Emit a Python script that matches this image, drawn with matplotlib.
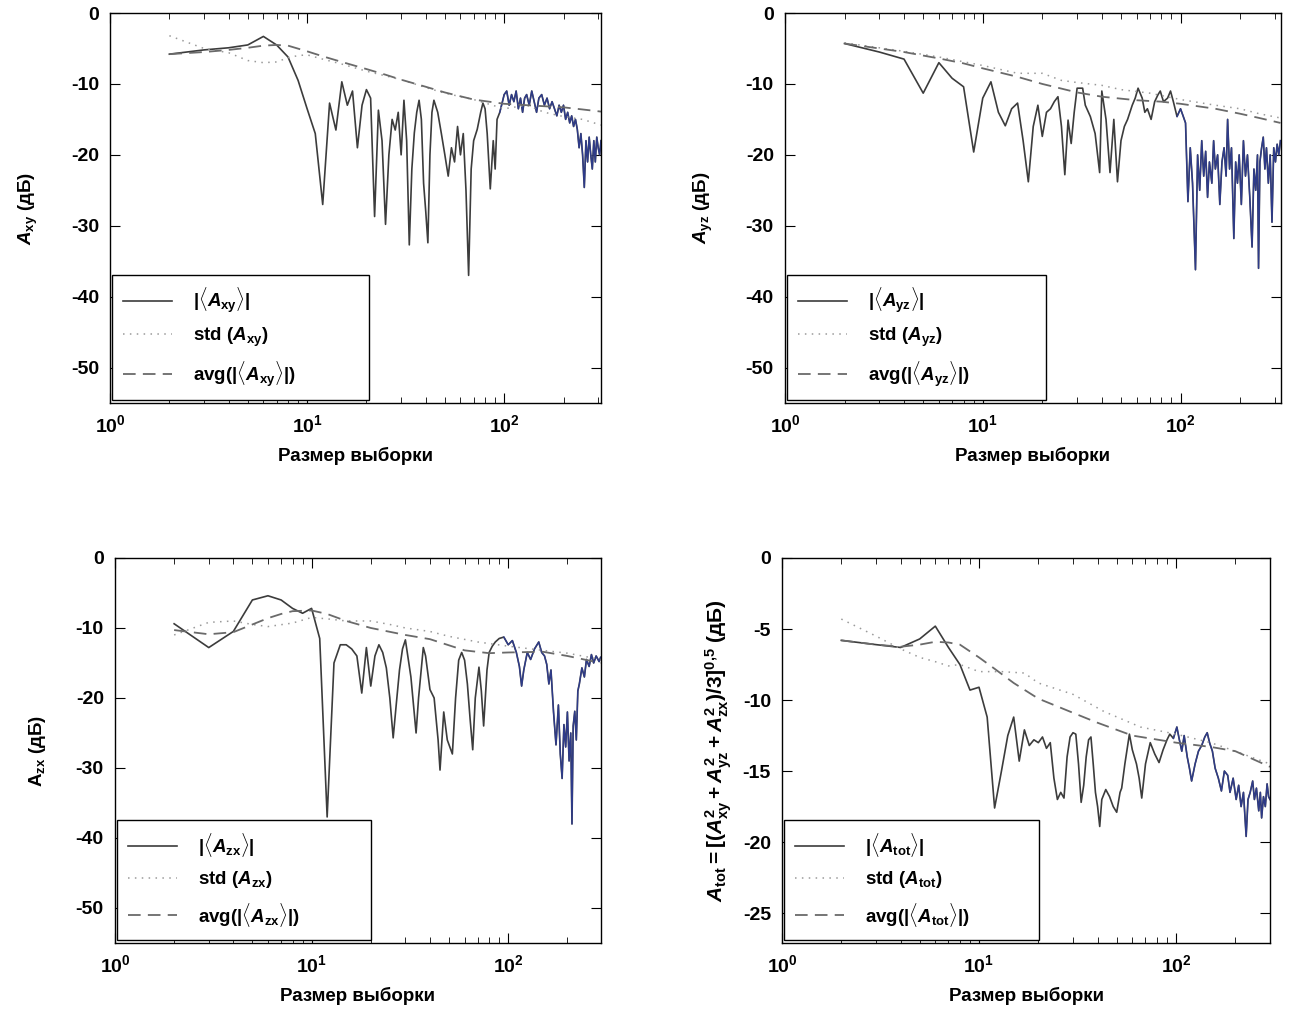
import matplotlib
matplotlib.use("Agg")
import numpy as np
from matplotlib import pyplot as plt

plt.rcParams['font.family'] = ['Liberation Sans', 'DejaVu Sans']
plt.rcParams['font.weight'] = 'bold'
plt.rcParams['axes.labelweight'] = 'bold'
plt.rcParams['axes.unicode_minus'] = False
plt.rcParams['mathtext.fontset'] = 'custom'
plt.rcParams['mathtext.rm'] = 'Liberation Sans:bold'
plt.rcParams['mathtext.it'] = 'Liberation Sans:italic:bold'
plt.rcParams['mathtext.bf'] = 'Liberation Sans:bold'

# ---- A_xy ----
n_xy = [2, 3, 4, 5, 6, 7, 8, 9, 10, 11, 12, 13, 14, 15, 16, 17, 18, 19, 20, 21, 22, 23, 24, 25,
        26, 27, 28, 29, 30, 31, 32, 33, 34, 35, 36, 37, 38, 39, 40, 41, 42, 43, 44, 46, 48, 50,
        52, 54, 56, 58, 60, 62, 64, 66, 68, 70, 73, 76, 78, 80, 82, 85, 88, 90, 92, 95, 98, 100,
        103, 106, 109, 112, 115, 118, 121, 124, 127, 130, 134, 138, 142, 146, 150, 155, 160, 165,
        170, 175, 180, 185, 190, 195, 200, 205, 210, 215, 220, 225, 230, 235, 240, 245, 250, 255,
        260, 265, 270, 275, 280, 285, 290, 295, 300, 305, 310]
abs_xy = [-5.8, -5.2, -4.9, -4.5, -3.3, -4.5, -6.2, -9.5, -13.5, -17, -27, -12.7, -16.5, -9.7,
          -13, -11, -19, -13, -10.8, -12, -28.7, -13.7, -18, -29.8, -20, -15, -16.5, -14, -20,
          -12.3, -18, -32.7, -22, -16.9, -14, -12.3, -15, -24, -28, -32.4, -20, -14, -12.3, -14,
          -17, -20, -23, -19, -21, -16, -20, -17, -25, -37, -22, -18, -16.4, -14, -12.7, -13.5,
          -17, -24.8, -18, -22, -15, -14, -12.5, -11.5, -11, -13, -11.5, -12.5, -11, -13.5, -12,
          -14, -12, -11.5, -13, -11, -12.5, -14, -12, -11.5, -13, -12, -13.5, -12.5, -13.5, -14.5,
          -13, -14, -13, -15, -14, -15.5, -14.5, -16, -15, -16.4, -19, -17, -20, -24.6, -18, -21,
          -17.5, -20, -22, -18, -21, -17.5, -19, -20, -18]
n_avg_xy = [2, 3, 4, 5, 6, 7, 8, 10, 12, 15, 20, 25, 30, 40, 50, 70, 100, 150, 200, 250, 310]
avg_xy = [-5.8, -5.5, -5.2, -4.9, -4.6, -4.5, -4.6, -5.4, -6.1, -6.9, -7.9, -8.7, -9.4, -10.4,
          -11.2, -12.2, -12.8, -13.1, -13.3, -13.6, -13.9]
n_std_xy = [2, 3, 4, 5, 6, 7, 8, 9, 10, 12, 15, 20, 30, 40, 50, 70, 100, 130, 160, 200, 250, 310]
std_xy = [-3.2, -5.0, -5.6, -6.7, -7.0, -6.9, -6.3, -6.0, -5.9, -6.5, -7.2, -8.2, -9.4, -10.5,
          -11.3, -12.2, -13.5, -13.0, -14.0, -14.6, -15.0, -15.8]

# ---- A_yz ----
n_yz = [2, 3, 4, 5, 6, 7, 8, 9, 10, 11, 12, 13, 14, 15, 16, 17, 18, 19, 20, 21, 22, 23, 24, 25,
        26, 27, 28, 29, 30, 32, 33, 35, 37, 39, 40, 42, 44, 46, 48, 50, 52, 54, 57, 59, 61, 64,
        66, 68, 71, 74, 77, 79, 82, 86, 89, 92, 96, 100, 103, 106, 109, 112, 115, 119, 122, 125,
        128, 131, 134, 137, 140, 144, 147, 150, 154, 158, 162, 166, 170, 173, 177, 181, 186, 190,
        194, 198, 203, 208, 213, 218, 224, 230, 235, 240, 245, 248, 252, 257, 262, 267, 272, 278,
        284, 290, 296, 302, 308, 314, 320]
abs_yz = [-4.3, -5.5, -6.5, -11.3, -7, -9.2, -10.4, -19.6, -12, -9.7, -14, -15.9, -13.5, -12.7,
          -18, -23.8, -16, -13, -17.4, -14, -13.5, -12.5, -11.8, -16, -22.8, -15.1, -18.4, -14,
          -10.6, -10.6, -13, -14.6, -17, -22.5, -11, -15, -22.5, -15, -23.8, -18, -16, -15, -13,
          -12, -10.6, -12, -14, -13.5, -15, -12.5, -11.5, -11, -12.5, -12, -11, -12.5, -14.6,
          -13.5, -14.5, -15.5, -26.6, -19, -24, -36.2, -20, -25, -18, -23, -19.5, -26, -21, -24,
          -18, -22, -20, -27, -21, -19, -23, -15, -22, -19, -31.8, -21, -24, -20, -27, -18, -23,
          -20, -26, -33, -22, -25, -20, -36, -21, -19, -17.5, -22, -19, -24, -20, -29.5, -19,
          -21, -18.5, -20, -18]
n_avg_yz = [2, 3, 4, 5, 6, 8, 10, 15, 20, 30, 40, 60, 80, 100, 150, 200, 250, 320]
avg_yz = [-4.3, -5.0, -5.5, -6.0, -6.4, -7.1, -7.8, -9.0, -10.0, -11.2, -11.8, -12.3, -12.5,
          -12.8, -13.5, -14.2, -14.8, -15.5]
n_std_yz = [2, 4, 6, 10, 15, 20, 25, 30, 40, 50, 70, 100, 150, 200, 250, 320]
std_yz = [-4.2, -5.4, -6.2, -7.4, -8.5, -8.5, -9.5, -9.8, -10.2, -10.8, -11.3, -12.2, -13.0,
          -13.5, -14.2, -14.8]

# ---- A_zx ----
n_zx = [2, 3, 4, 5, 6, 7, 8, 9, 10, 11, 12, 13, 14, 15, 16, 17, 18, 19, 20, 21, 22, 23, 24, 25,
        26, 27, 28, 29, 30, 32, 34, 35, 37, 38, 40, 42, 44, 45, 47, 49, 52, 54, 56, 58, 60, 62,
        64, 66, 68, 71, 73, 75, 78, 80, 83, 86, 90, 95, 100, 105, 110, 114, 117, 120, 125, 130,
        136, 143, 148, 153, 157, 161, 165, 170, 175, 180, 184, 188, 192, 196, 200, 204, 208, 211,
        214, 218, 222, 226, 230, 237, 244, 250, 258, 265, 272, 280, 290, 295]
abs_zx = [-9.4, -12.8, -10.5, -6, -5.4, -6, -7.2, -7.9, -7.2, -11.5, -37, -15, -12.4, -12.4,
          -13, -14, -19.3, -12.8, -18.3, -14, -12.4, -13.5, -15.7, -20, -25.7, -20.7, -16, -13,
          -11.7, -17, -25, -20, -12.8, -14, -18.8, -20, -26, -30.3, -22, -26, -28, -20, -14.6,
          -13.5, -14.6, -18, -23, -27.4, -20, -15.6, -19, -24, -16, -13.5, -12.6, -12, -11.5,
          -11.3, -12.4, -11.8, -13.5, -15.5, -18.3, -16, -13.5, -14.5, -13, -12, -13.5, -14,
          -15.2, -18, -16, -22, -26.7, -21, -28, -31.5, -23.8, -27, -22, -29, -25, -38, -24,
          -21.9, -26, -19, -18, -15.7, -17, -14.5, -15.5, -13.8, -15, -14, -14.8, -14.2]
n_avg_zx = [2, 3, 4, 5, 6, 7, 8, 10, 12, 15, 20, 30, 40, 60, 80, 100, 150, 200, 295]
avg_zx = [-10.3, -10.9, -10.6, -9.5, -8.6, -8.0, -7.6, -7.5, -8.0, -9.0, -10.0, -11.0, -11.6,
          -13.2, -13.6, -13.5, -13.4, -14.0, -15.0]
n_std_zx = [2, 3, 4, 5, 6, 8, 10, 12, 15, 20, 25, 30, 40, 50, 70, 100, 150, 200, 295]
std_zx = [-11.0, -9.2, -9.0, -9.5, -9.8, -9.3, -8.5, -8.7, -9.0, -9.0, -9.5, -10.0, -10.5,
          -11.2, -12.0, -12.6, -13.2, -13.6, -14.5]

# ---- A_tot ----
n_tot = [2, 3, 4, 5, 6, 7, 8, 9, 10, 11, 12, 13, 14, 15, 16, 17, 18, 19, 20, 21, 22, 23, 24,
         25, 26, 27, 28, 29, 30, 31, 32, 33, 34, 35, 36, 37, 38, 39, 40, 41, 42, 44, 46, 48, 50,
         52, 53, 55, 58, 60, 63, 65, 67, 70, 74, 78, 82, 86, 90, 93, 97, 101, 104, 107, 110, 114,
         117, 120, 125, 130, 135, 140, 144, 148, 153, 158, 164, 170, 176, 183, 188, 195, 202, 208,
         214, 220, 227, 232, 238, 245, 250, 256, 263, 268, 272, 278, 284, 290, 295, 300]
abs_tot = [-5.8, -6.1, -6.3, -5.7, -4.8, -6.3, -7.5, -9.3, -9.1, -11.2, -17.6, -15, -12.5, -11.2,
           -14.3, -12.1, -13.2, -12.8, -13, -12.6, -13.4, -13, -15.5, -17, -16.5, -16.9, -14,
           -12.6, -12.3, -12.4, -14.5, -17.2, -16, -14, -12.8, -12.6, -14.5, -16.5, -17.5, -18.9,
           -17, -16.3, -16.8, -17.5, -17.9, -16.5, -16.2, -14.5, -12.4, -13.5, -14.5, -15.5,
           -16.9, -14.5, -13.0, -13.8, -14.4, -13.5, -12.8, -12.4, -12.7, -11.9, -12.8, -13.6,
           -12.5, -14, -14.8, -15.7, -14.5, -13.6, -13.2, -12.6, -12.3, -13, -13.6, -14.8, -15.5,
           -16.4, -15, -15.3, -16.5, -15.5, -17, -16, -17.5, -16.5, -19.6, -17, -16.5, -15.7,
           -17, -16.2, -17.8, -16.5, -18.3, -16.8, -17.5, -15.9, -16.8, -17]
n_avg_tot = [2, 3, 4, 5, 6, 7, 8, 10, 12, 15, 20, 30, 40, 60, 100, 150, 200, 300]
avg_tot = [-5.8, -6.1, -6.25, -6.1, -5.9, -5.95, -6.1, -7.0, -7.8, -8.8, -9.9, -10.9, -11.6,
           -12.5, -13.0, -13.3, -13.6, -14.7]
n_std_tot = [2, 3, 4, 5, 6, 7, 8, 10, 13, 17, 20, 30, 43, 66, 100, 150, 200, 300]
std_tot = [-4.3, -5.5, -6.4, -7.0, -7.3, -7.6, -7.5, -8.0, -8.0, -8.1, -8.8, -9.6, -10.8, -11.9,
           -12.4, -13.0, -13.6, -14.5]

LINE_GREY = '#3c3c3c'
BLUE = '#2b3b9e'
FS = 14


def draw_panel(ax, n, vals, n_avg, avg, n_std, std, sub, xmax, ylim, yticks, ylabel,
               ylab_fs=FS, ylab_pad=22):
    n = np.asarray(n)
    vals = np.asarray(vals)
    ax.plot(n, vals, color=LINE_GREY, lw=1.2, label=r'$|\langle A_{\mathrm{%s}}\rangle|$' % sub)
    hi = n >= 95
    ax.plot(n[hi], vals[hi], color=BLUE, lw=1.0, alpha=0.8)
    ax.plot(n_std, std, color='#9a9a9a', lw=1.1, ls=(0, (1, 3.5)),
            label=r'std ($A_{\mathrm{%s}}$)' % sub)
    ax.plot(n_avg, avg, color='#6a6a6a', lw=1.3, ls=(0, (7, 4)),
            label=r'avg($|\langle A_{\mathrm{%s}}\rangle|$)' % sub)
    ax.set_xscale('log')
    ax.set_xlim(1, xmax)
    ax.set_ylim(*ylim)
    ax.set_yticks(yticks)
    ax.set_xticks([1, 10, 100])
    ax.set_xticklabels([r'$10^0$', r'$10^1$', r'$10^2$'])
    ax.tick_params(which='both', direction='in', top=True, right=True, labelsize=FS)
    ax.tick_params(which='major', length=7, pad=8)
    ax.tick_params(which='minor', length=4)
    ax.set_xlabel('Размер выборки', fontsize=FS - 0.5, labelpad=8)
    ax.set_ylabel(ylabel, fontsize=ylab_fs - 0.5, labelpad=ylab_pad)
    for s in ax.spines.values():
        s.set_linewidth(1.0)
    leg = ax.legend(loc='lower left', bbox_to_anchor=(0.004, 0.008, 0.523, 0.308), mode='expand',
                    fancybox=False, edgecolor='black', framealpha=1, fontsize=FS - 0.5,
                    handlelength=2.6, handletextpad=1.1, labelspacing=0.55, borderpad=0.6,
                    borderaxespad=0)
    leg.get_frame().set_linewidth(1.0)


fig = plt.figure(figsize=(12.9, 10.18), dpi=100)
ax1 = fig.add_axes([0.0853, 0.6041, 0.3806, 0.3831])
ax2 = fig.add_axes([0.6085, 0.6041, 0.3845, 0.3831])
ax3 = fig.add_axes([0.0891, 0.0737, 0.3767, 0.3782])
ax4 = fig.add_axes([0.6062, 0.0737, 0.3783, 0.3782])

t50 = [0, -10, -20, -30, -40, -50]
draw_panel(ax1, n_xy, abs_xy, n_avg_xy, avg_xy, n_std_xy, std_xy, 'xy', 310, (-55, 0), t50,
           r'$A_{\mathrm{xy}}$ (дБ)')
draw_panel(ax2, n_yz, abs_yz, n_avg_yz, avg_yz, n_std_yz, std_yz, 'yz', 322, (-55, 0), t50,
           r'$A_{\mathrm{yz}}$ (дБ)')
draw_panel(ax3, n_zx, abs_zx, n_avg_zx, avg_zx, n_std_zx, std_zx, 'zx', 296, (-55, 0), t50,
           r'$\mathrm{A}_{\mathrm{zx}}$ (дБ)', ylab_pad=20)
draw_panel(ax4, n_tot, abs_tot, n_avg_tot, avg_tot, n_std_tot, std_tot, 'tot', 300, (-27.1, 0),
           [0, -5, -10, -15, -20, -25],
           r'$A_{\mathrm{tot}} = [(A_{\mathrm{xy}}^2 + A_{\mathrm{yz}}^2 + A_{\mathrm{zx}}^2)/3]^{0{,}5}$ (дБ)',
           ylab_fs=15.5, ylab_pad=6)

fig.savefig('out.png', dpi=100)
